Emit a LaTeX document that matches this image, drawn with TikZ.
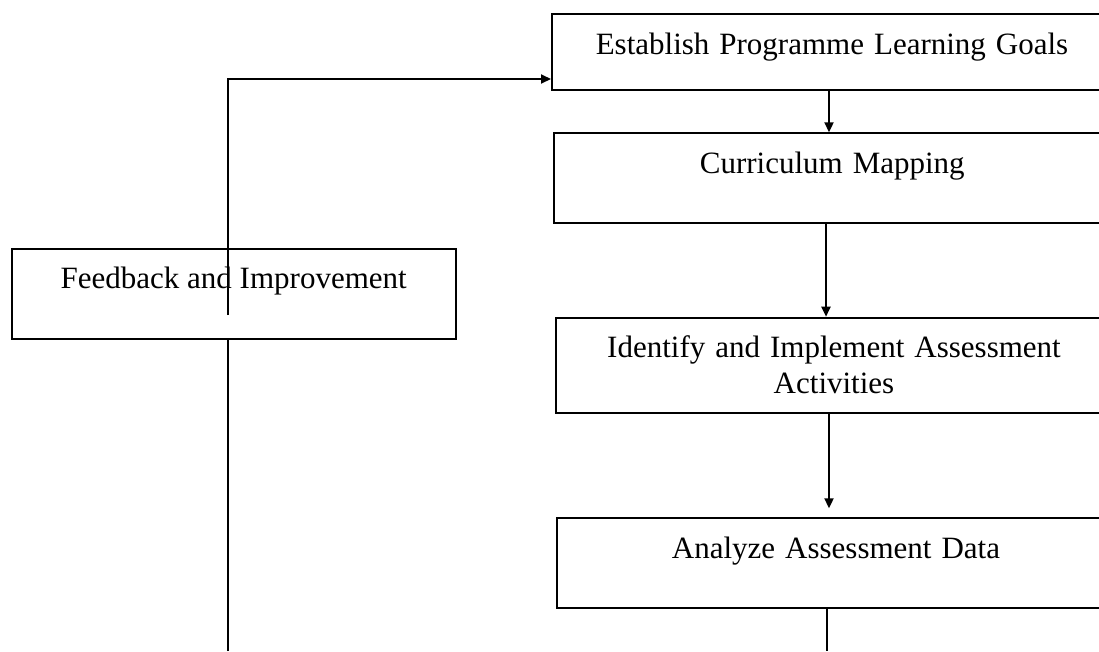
\documentclass[tikz,border=0pt]{standalone}
\usepackage{fontspec}
\setmainfont{Liberation Serif}
\usetikzlibrary{arrows.meta}
\begin{document}
\begin{tikzpicture}[x=1pt,y=-1pt,
  box/.style={draw, line width=2pt, inner sep=0pt, anchor=north west},
  lbl/.style={anchor=base, inner sep=0pt, font=\fontsize{31}{36}\selectfont},
  wide/.style={execute at begin node={\spaceskip=10pt\relax}},
  conn/.style={line width=2pt},
  arr/.style={conn, -{Triangle[length=10pt,width=9pt]}}]
\useasboundingbox (0,0) rectangle (1099,651);
% right column boxes
\node[box, minimum width=560pt, minimum height=76pt] (b1) at (551,13.3) {};
\node[box, minimum width=556pt, minimum height=90pt] (b2) at (553.3,132.3) {};
\node[box, minimum width=556pt, minimum height=95pt] (b3) at (555,316.7) {};
\node[box, minimum width=558pt, minimum height=90pt] (b4) at (556,517.3) {};
\node[lbl, wide] (t1) at ([yshift=-41pt]b1.north) {Establish Programme Learning Goals};
\node[lbl, wide] (t2) at ([yshift=-41pt]b2.north) {Curriculum Mapping};
\node[lbl, wide] (t3a) at ([yshift=-41pt]b3.north) {Identify and Implement Assessment};
\node[lbl, wide] (t3b) at ([yshift=-77pt]b3.north) {Activities};
\node[lbl, wide] (t4) at ([yshift=-41pt]b4.north) {Analyze Assessment Data};
% left box
\node[box, minimum width=444pt, minimum height=90pt] (fb) at (10.7,247.7) {};
\node[lbl] (tf) at ([yshift=-41pt]fb.north) {Feedback and Improvement};
% connectors
\draw[arr] (829,0 |- b1.south) -- (829,0 |- b2.north);
\draw[arr] (826,0 |- b2.south) -- (826,0 |- b3.north);
\draw[arr, shorten >=9pt] (829,0 |- b3.south) -- (829,0 |- b4.north);
\coordinate (bot2) at (827,651);
\draw[conn] (827,0 |- b4.south) -- (bot2);
\coordinate (fin) at (227.5,315);
\coordinate (fbot) at (227.5,651);
\coordinate (corner) at (227.5,79);
\draw[conn] (fbot) -- (fbot |- fb.south);
\draw[arr] (fin) -- (corner) -- (b1.west |- corner);
\end{tikzpicture}
\end{document}
